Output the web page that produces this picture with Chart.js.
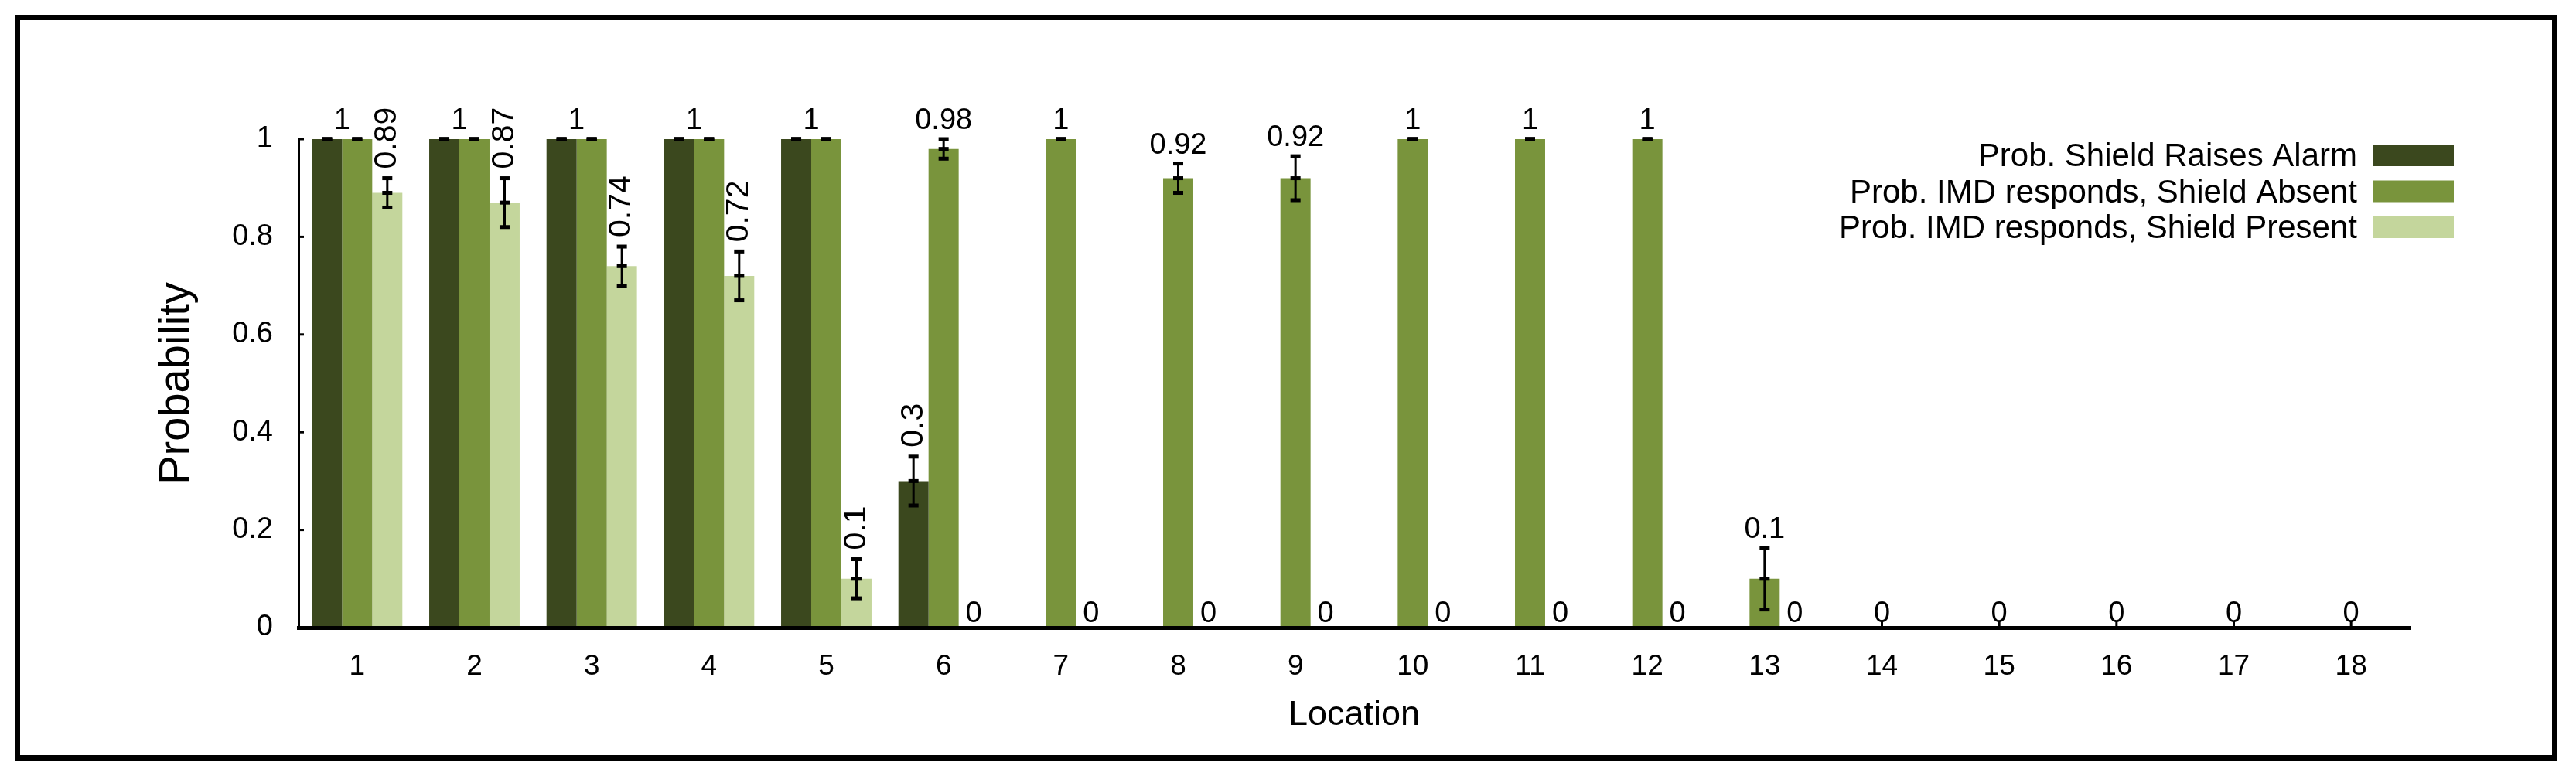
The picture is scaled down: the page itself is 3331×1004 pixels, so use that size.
<!DOCTYPE html>
<html>
<head>
<meta charset="utf-8">
<title>Shield location probabilities</title>
<script src="https://cdn.jsdelivr.net/npm/chart.js@4"></script>
<style>
  body { margin: 0; background: #fff; }
  #wrap { position: relative; width: 3331px; height: 1004px; }
  #frame { position: absolute; left: 19px; top: 19px; width: 3274px; height: 951px; border: 7px solid #000; pointer-events: none; }
</style>
</head>
<body>
<div id="wrap">
  <canvas id="chart"></canvas>
  <div id="frame"></div>
</div>
<script>
const locations = ["1", "2", "3", "4", "5", "6", "7", "8", "9", "10", "11", "12", "13", "14", "15", "16", "17", "18"];

const alarmProb = [1, 1, 1, 1, 1, 0.3, 0, 0, 0, 0, 0, 0, 0, 0, 0, 0, 0, 0];
const alarmErr = [0, 0, 0, 0, 0, 0.05, 0, 0, 0, 0, 0, 0, 0, 0, 0, 0, 0, 0];

const absentProb = [1, 1, 1, 1, 1, 0.98, 1, 0.92, 0.92, 1, 1, 1, 0.1, 0, 0, 0, 0, 0];
const absentErr = [0, 0, 0, 0, 0, 0.02, 0, 0.03, 0.045, 0, 0, 0, 0.063, 0, 0, 0, 0, 0];

const presentProb = [0.89, 0.87, 0.74, 0.72, 0.1, 0, 0, 0, 0, 0, 0, 0, 0, 0, 0, 0, 0, 0];
const presentErr = [0.03, 0.05, 0.04, 0.05, 0.04, 0, 0, 0, 0, 0, 0, 0, 0, 0, 0, 0, 0, 0];

const yTicks = [0, 0.2, 0.4, 0.6, 0.8, 1];

const FONT = "'Liberation Sans', Arial, sans-serif";

// error bars: line plus small square caps at low, value and high
const errorBars = {
  id: "errorBars",
  afterDatasetsDraw(chart) {
    const { ctx, scales: { y } } = chart;
    ctx.save();
    ctx.fillStyle = "#000";
    ctx.strokeStyle = "#000";
    ctx.lineWidth = 3;
    chart.data.datasets.forEach((ds, di) => {
      chart.getDatasetMeta(di).data.forEach((bar, i) => {
        const v = ds.data[i], e = ds.err[i];
        if (!v) return;
        const hi = y.getPixelForValue(v + e);
        const mid = y.getPixelForValue(v);
        const lo = y.getPixelForValue(v - e);
        ctx.beginPath();
        ctx.moveTo(bar.x, hi);
        ctx.lineTo(bar.x, lo);
        ctx.stroke();
        [hi, mid, lo].forEach(py => ctx.fillRect(bar.x - 6.5, py - 2.5, 13, 5));
      });
    });
    ctx.restore();
  }
};

// value labels above the bars (upright or turned)
const valueLabels = {
  id: "valueLabels",
  afterDatasetsDraw(chart) {
    const { ctx, scales: { y } } = chart;
    const bars = chart.data.datasets.map((_, di) => chart.getDatasetMeta(di).data);

    const put = (v, e, x, turned) => {
      const top = y.getPixelForValue(v + e);
      ctx.save();
      if (turned) {
        ctx.font = `41px ${FONT}`;
        ctx.translate(x, top - 12);
        ctx.rotate(-Math.PI / 2);
        ctx.textAlign = "left";
        ctx.textBaseline = "middle";
        ctx.fillText(String(v), 0, 0);
      } else {
        ctx.font = `38px ${FONT}`;
        ctx.textAlign = "center";
        ctx.textBaseline = "alphabetic";
        ctx.fillText(String(v), x, top - (v > 0 ? 13 : 7));
      }
      ctx.restore();
    };

    ctx.save();
    ctx.fillStyle = "#000";
    locations.forEach((_, i) => {
      const a = alarmProb[i], b = absentProb[i], c = presentProb[i];
      if (a > 0 && a !== b) put(a, alarmErr[i], bars[0][i].x, true);
      const bx = a > 0 && a === b ? (bars[0][i].x + bars[1][i].x) / 2 : bars[1][i].x;
      put(b, absentErr[i], bx, false);
      if (a > 0 || b > 0) put(c, presentErr[i], bars[2][i].x, c > 0);
    });
    ctx.restore();
  }
};

// small inward tick marks on both axes
const innerTicks = {
  id: "innerTicks",
  beforeDatasetsDraw(chart) {
    const { ctx, chartArea, scales: { x } } = chart;
    ctx.save();
    ctx.strokeStyle = "#000";
    ctx.lineWidth = 3;
    locations.forEach((_, i) => {
      const px = x.getPixelForValue(i);
      ctx.beginPath();
      ctx.moveTo(px, chartArea.bottom);
      ctx.lineTo(px, chartArea.bottom - 9);
      ctx.stroke();
    });
    ctx.restore();
  },
  afterDatasetsDraw(chart) {
    const { ctx, chartArea, scales: { y } } = chart;
    ctx.save();
    ctx.strokeStyle = "#000";
    ctx.lineWidth = 3;
    yTicks.forEach(v => {
      const py = y.getPixelForValue(v);
      ctx.beginPath();
      ctx.moveTo(chartArea.left, py);
      ctx.lineTo(chartArea.left + 7, py);
      ctx.stroke();
    });
    ctx.restore();
  }
};

// legend inside the plot, text right-aligned with the swatch on its right
const sideLegend = {
  id: "sideLegend",
  afterDraw(chart) {
    const { ctx, chartArea } = chart;
    const right = chartArea.right + 57;
    ctx.save();
    ctx.font = `42px ${FONT}`;
    ctx.textAlign = "right";
    ctx.textBaseline = "alphabetic";
    chart.data.datasets.forEach((ds, i) => {
      const base = chartArea.top + 35 + i * 46.5;
      ctx.fillStyle = ds.backgroundColor;
      ctx.fillRect(right - 104, base - 28, 104, 28);
      ctx.fillStyle = "#000";
      ctx.fillText(ds.label, right - 125, base);
    });
    ctx.restore();
  }
};

new Chart(document.getElementById("chart"), {
  type: "bar",
  data: {
    labels: locations,
    datasets: [
      { label: "Prob. Shield Raises Alarm", data: alarmProb, err: alarmErr, backgroundColor: "#3B481E" },
      { label: "Prob. IMD responds, Shield Absent", data: absentProb, err: absentErr, backgroundColor: "#79943C" },
      { label: "Prob. IMD responds, Shield Present", data: presentProb, err: presentErr, backgroundColor: "#C4D69C" }
    ]
  },
  options: {
    responsive: true,
    maintainAspectRatio: false,
    animation: false,
    layout: { padding: { top: 180, right: 215, bottom: 0, left: 0 } },
    datasets: { bar: { categoryPercentage: 0.771, barPercentage: 1, borderWidth: 0 } },
    plugins: {
      legend: { display: false },
      tooltip: { enabled: false }
    },
    scales: {
      x: {
        offset: true,
        grid: { display: false },
        border: { display: true, color: "#000", width: 5, z: 1 },
        ticks: { color: "#000", padding: 21, font: { family: FONT, size: 37 } },
        title: { display: true, text: "Location", color: "#000", font: { family: FONT, size: 45 }, padding: { top: 0, bottom: 51 } },
        afterFit: s => { s.height = 192; }
      },
      y: {
        min: 0,
        max: 1,
        grid: { display: false },
        border: { display: true, color: "#000", width: 3, z: 1 },
        afterBuildTicks: s => { s.ticks = yTicks.map(v => ({ value: v })); },
        ticks: { color: "#000", padding: 25, font: { family: FONT, size: 38 }, callback: v => String(v) },
        title: { display: true, text: "Probability", color: "#000", font: { family: FONT, size: 56 }, padding: { top: 195, bottom: 0 } },
        afterFit: s => { s.width = 386; }
      }
    }
  },
  plugins: [innerTicks, errorBars, valueLabels, sideLegend]
});
</script>
</body>
</html>
